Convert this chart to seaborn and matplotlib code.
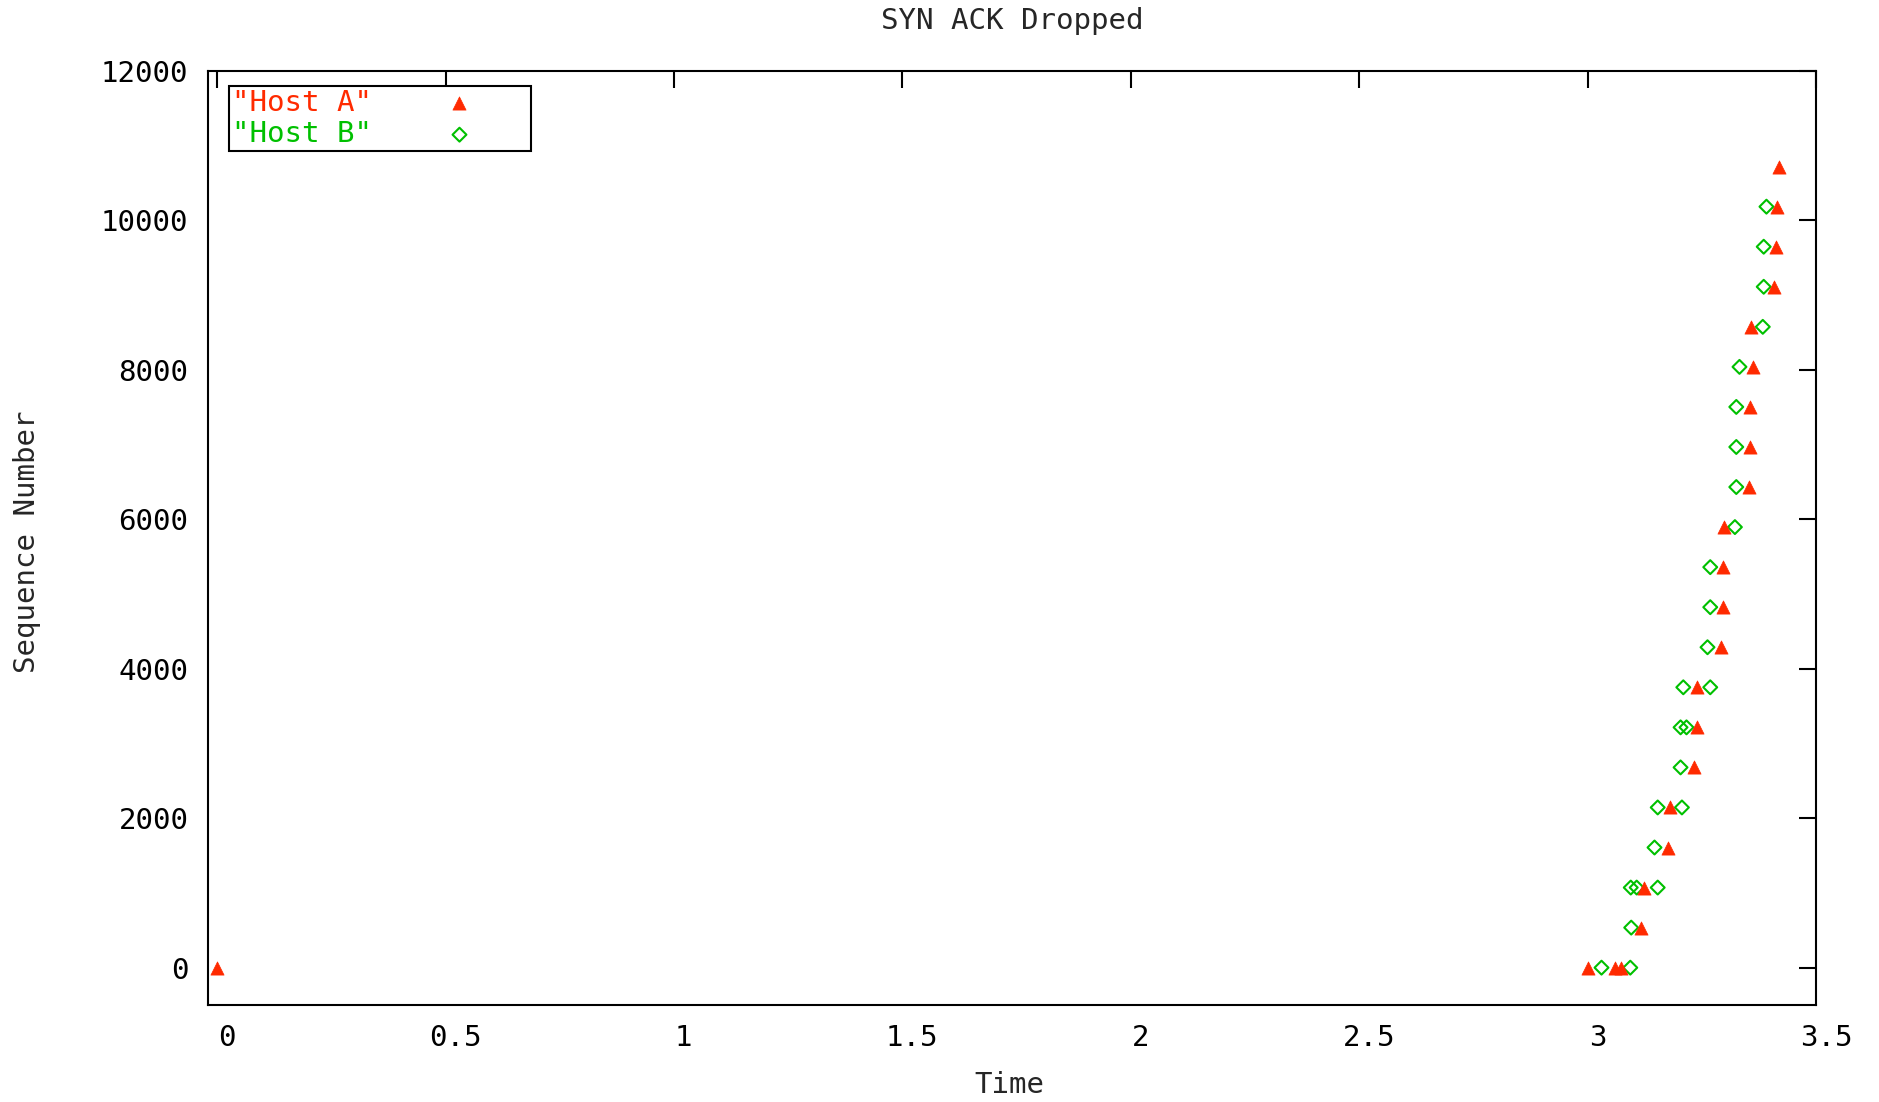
"""SYN ACK Dropped: sequence number vs time for two hosts."""
import matplotlib
matplotlib.use("Agg")
import matplotlib.pyplot as plt
import numpy as np
import pandas as pd
import seaborn as sns
from matplotlib.transforms import ScaledTranslation

# --- data --------------------------------------------------------------
host_a_time = [0.0, 3.001, 3.060, 3.073, 3.116, 3.123, 3.176, 3.181, 3.232,
               3.239, 3.239, 3.291, 3.297, 3.297, 3.299, 3.352, 3.355, 3.355,
               3.361, 3.358, 3.408, 3.412, 3.415, 3.418]
host_a_seq = [0, 0, 0, 0, 536, 1072, 1608, 2144, 2680,
              3216, 3752, 4288, 4824, 5360, 5896, 6432, 6968, 7504,
              8040, 8576, 9112, 9648, 10184, 10720]

host_b_time = [3.030, 3.093, 3.095, 3.094, 3.107, 3.153, 3.146, 3.153, 3.206,
               3.203, 3.203, 3.216, 3.209, 3.268, 3.262, 3.268, 3.268, 3.322,
               3.325, 3.325, 3.325, 3.332, 3.383, 3.385, 3.385, 3.391]
host_b_seq = [0, 0, 536, 1072, 1072, 1072, 1608, 2144, 2144,
              2680, 3216, 3216, 3752, 3752, 4288, 4824, 5360, 5896,
              6432, 6968, 7504, 8040, 8576, 9112, 9648, 10184]

x_ticks = [0, 0.5, 1, 1.5, 2, 2.5, 3, 3.5]
y_ticks = [0, 2000, 4000, 6000, 8000, 10000, 12000]

RED = "#ff2a00"
GREEN = "#00c000"
FS = 21

df_a = pd.DataFrame({"time": host_a_time, "seq": host_a_seq})
df_b = pd.DataFrame({"time": host_b_time, "seq": host_b_seq})

sns.set_style("white")
plt.rcParams["font.family"] = ["DejaVu Sans Mono", "DejaVu Sans"]

fig = plt.figure(figsize=(18.79, 11.02), dpi=100)
ax = fig.add_axes([0.1107, 0.0880, 0.8559, 0.8476])

sns.scatterplot(data=df_a, x="time", y="seq", ax=ax, marker="^", s=90,
                color=RED, edgecolor=RED, linewidth=0.5,
                label='"Host A"', zorder=3)
sns.scatterplot(data=df_b, x="time", y="seq", ax=ax, marker="D", s=50,
                color=GREEN, facecolors="none", edgecolor=GREEN,
                linewidth=1.5, label='"Host B"', zorder=2)

ax.set_xlim(-0.02, 3.5)
ax.set_ylim(-500, 12000)
ax.set_xticks(x_ticks)
ax.set_xticklabels([f"{t:g}" for t in x_ticks])
ax.set_yticks(y_ticks)
ax.set_yticklabels([str(t) for t in y_ticks])
ax.tick_params(axis="both", direction="in", length=12, width=1.5,
               labelsize=FS, top=True, right=True, pad=14, colors="black")

for spine in ax.spines.values():
    spine.set_visible(True)
    spine.set_color("black")
    spine.set_linewidth(1.5)

# gnuplot draws the x labels a little right of the tick
shift = ScaledTranslation(7 / 72, 0, fig.dpi_scale_trans)
for lbl in ax.get_xticklabels():
    lbl.set_transform(lbl.get_transform() + shift)

ax.set_xlabel("Time", fontsize=FS, va="center")
ax.xaxis.set_label_coords(0.4985, -0.0857)
ax.set_ylabel("Sequence Number", fontsize=FS, va="center")
ax.yaxis.set_label_coords(-0.1126, 0.496)
fig.text(0.5386, 1 - 21 / 1102, "SYN ACK Dropped", fontsize=FS,
         ha="center", va="center")

leg = ax.legend(loc="upper left", bbox_to_anchor=(0.0131, 0.884, 0.188, 0.1),
                mode="expand", borderaxespad=0, markerfirst=False,
                handlelength=1.0, handletextpad=2.5, borderpad=0.1,
                labelspacing=0.12, fontsize=FS, fancybox=False,
                framealpha=1, edgecolor="black", scatterpoints=1,
                labelcolor=[RED, GREEN])
leg.get_frame().set_linewidth(1.5)

fig.savefig("out.png", dpi=100)
